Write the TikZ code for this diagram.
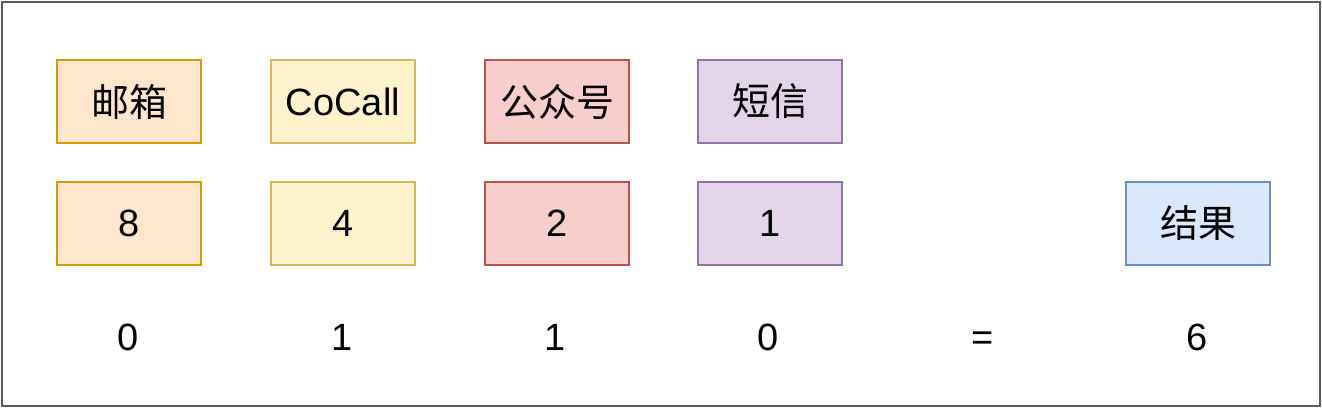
\documentclass[tikz,border=0pt]{standalone}
\usepackage{fontspec}
\setmainfont{Liberation Sans}
\newfontfamily\cjk{Noto Sans CJK SC}
\definecolor{oF}{HTML}{FFE6CC}\definecolor{oD}{HTML}{D79B00}
\definecolor{yF}{HTML}{FFF2CC}\definecolor{yD}{HTML}{D6B656}
\definecolor{rF}{HTML}{F8CECC}\definecolor{rD}{HTML}{B85450}
\definecolor{pF}{HTML}{E1D5E7}\definecolor{pD}{HTML}{9673A6}
\definecolor{bF}{HTML}{DAE8FC}\definecolor{bD}{HTML}{6C8EBF}
\begin{document}
\begin{tikzpicture}[x=0.5pt,y=-0.5pt,
  cell/.style={draw,line width=1pt,minimum width=72pt,minimum height=41.5pt,inner sep=0pt,font=\fontsize{19}{22}\selectfont},
  plain/.style={inner sep=0pt,text height=13.6pt,text depth=0pt,font=\fontsize{19}{22}\selectfont}]
\useasboundingbox (0,0) rectangle (1322,408);
\draw[line width=1.2pt,draw=black!65] (2,2) rectangle (1320,406);
\node[cell,fill=oF,draw=oD] (a1) at (129,101.5) {\cjk 邮箱};
\node[cell,fill=yF,draw=yD] (b1) at (343,101.5) {CoCall};
\node[cell,fill=rF,draw=rD] (c1) at (557,101.5) {\cjk 公众号};
\node[cell,fill=pF,draw=pD] (d1) at (770,101.5) {\cjk 短信};
\node[cell,fill=oF,draw=oD] (a2) at (129,223.5) {8};
\node[cell,fill=yF,draw=yD] (b2) at (343,223.5) {4};
\node[cell,fill=rF,draw=rD] (c2) at (557,223.5) {2};
\node[cell,fill=pF,draw=pD] (d2) at (770,223.5) {1};
\node[cell,fill=bF,draw=bD] (e2) at (1198,223.5) {\cjk 结果};
\node[plain] (a3) at (128,337) {0};
\node[plain] (b3) at (342,337) {1};
\node[plain] (c3) at (555,337) {1};
\node[plain] (d3) at (768,337) {0};
\node[plain] (eq) at (983,337) {=};
\node[plain] (e3) at (1197,337) {6};
\end{tikzpicture}
\end{document}
